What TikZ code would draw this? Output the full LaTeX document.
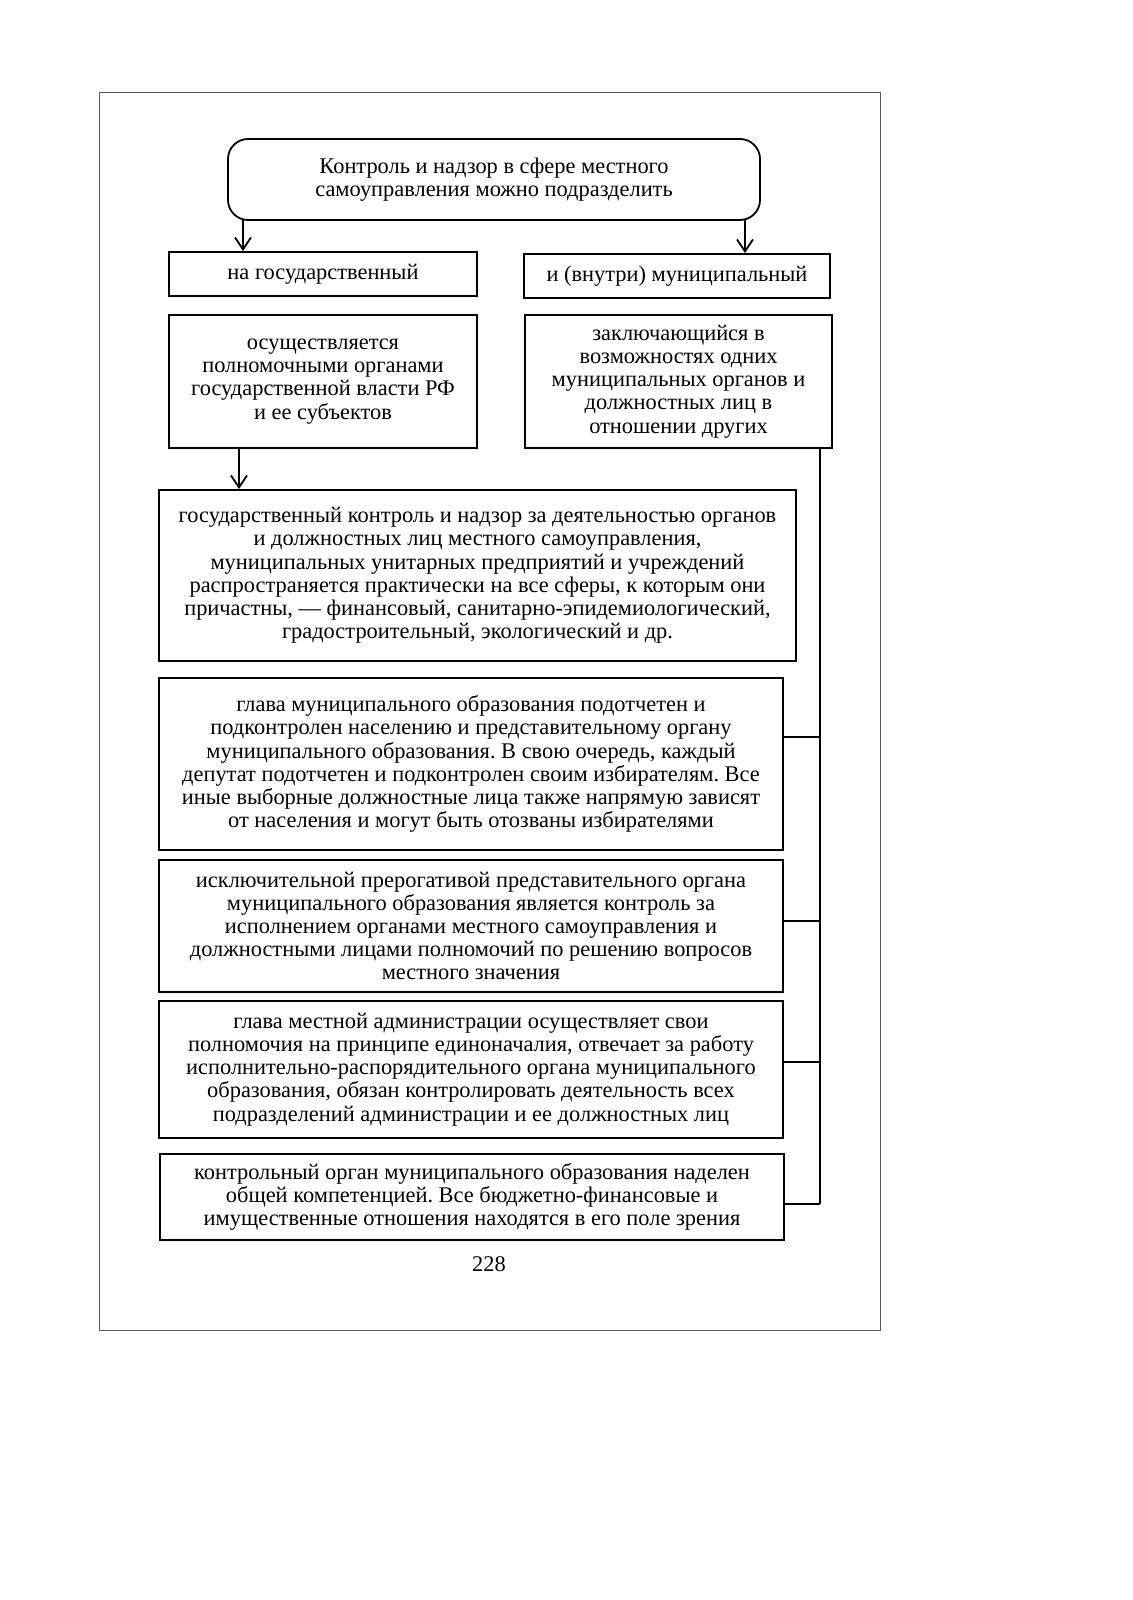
\documentclass[tikz,border=0pt]{standalone}
\usepackage{fontspec}
\setmainfont{Liberation Serif}
\usetikzlibrary{arrows.meta}
\frenchspacing
\begin{document}
\begin{tikzpicture}[x=0.5pt,y=-0.5pt,
  every node/.style={font=\frenchspacing\fontsize{11.2}{11.6}\selectfont, align=center, inner sep=0pt},
  box/.style={draw, line width=0.9pt},
  conn/.style={line width=0.9pt},
  arr/.style={line width=0.9pt, -{Straight Barb[length=6pt,width=8pt,line width=0.9pt]}}]
\useasboundingbox (0,0) rectangle (1132,1600);
\draw[gray!70!black, line width=0.5pt] (99,93) rectangle (880,1330);

\node[box, rounded corners=10pt, minimum width=266pt, minimum height=40.5pt] (T) at (494,179.5)
  {Контроль и надзор в сфере местного\\самоуправления можно подразделить};
\node[box, minimum width=154pt, minimum height=22pt] (A) at (323,274) {на государственный};
\node[box, minimum width=153pt, minimum height=22pt] (B) at (677,276) {и (внутри) муниципальный};
\node[box, minimum width=154pt, minimum height=66.5pt] (C) at (323,381.5)
  {осуществляется\\полномочными органами\\государственной власти РФ\\и ее субъектов};
\node[box, minimum width=153.5pt, minimum height=66.5pt] (D) at (678.5,381.5)
  {заключающийся в\\возможностях одних\\муниципальных органов и\\должностных лиц в\\отношении других};
\node[box, minimum width=318.5pt, minimum height=85.5pt] (E) at (477.5,575.5)
  {государственный контроль и надзор за деятельностью органов\\и должностных лиц местного самоуправления,\\муниципальных унитарных предприятий и учреждений\\распространяется практически на все сферы, к которым они\\причастны, — финансовый, санитарно-эпидемиологический,\\градостроительный, экологический и др.};
\node[box, minimum width=312pt, minimum height=86pt] (F) at (471,764)
  {глава муниципального образования подотчетен и\\подконтролен населению и представительному органу\\муниципального образования. В свою очередь, каждый\\депутат подотчетен и подконтролен своим избирателям. Все\\иные выборные должностные лица также напрямую зависят\\от населения и могут быть отозваны избирателями};
\node[box, minimum width=312pt, minimum height=66pt] (G) at (471,926)
  {исключительной прерогативой представительного органа\\муниципального образования является контроль за\\исполнением органами местного самоуправления и\\должностными лицами полномочий по решению вопросов\\местного значения};
\node[box, minimum width=312pt, minimum height=68.5pt] (H) at (471,1069.5)
  {глава местной администрации осуществляет свои\\полномочия на принципе единоначалия, отвечает за работу\\исполнительно-распорядительного органа муниципального\\образования, обязан контролировать деятельность всех\\подразделений администрации и ее должностных лиц};
\node[box, minimum width=312pt, minimum height=43pt] (I) at (472,1197)
  {контрольный орган муниципального образования наделен\\общей компетенцией. Все бюджетно-финансовые и\\имущественные отношения находятся в его поле зрения};
\node (P) at (489,1264) {228};

\coordinate (tl) at (243,219);
\coordinate (tr) at (745,219);
\draw[arr] (tl) -- (tl |- A.north);
\draw[arr] (tr) -- (tr |- B.north);
\coordinate (cl) at (239,448);
\draw[arr] (cl) -- (cl |- E.north);

\coordinate (vtop) at (820,448);
\coordinate (jF) at (820,737);
\coordinate (jG) at (820,921);
\coordinate (jH) at (820,1062);
\coordinate (jI) at (820,1204);
\draw[conn] (vtop) -- (jI);
\draw[conn] (jF) -- (jF -| F.east);
\draw[conn] (jG) -- (jG -| G.east);
\draw[conn] (jH) -- (jH -| H.east);
\draw[conn] (jI) -- (jI -| I.east);
\end{tikzpicture}
\end{document}
